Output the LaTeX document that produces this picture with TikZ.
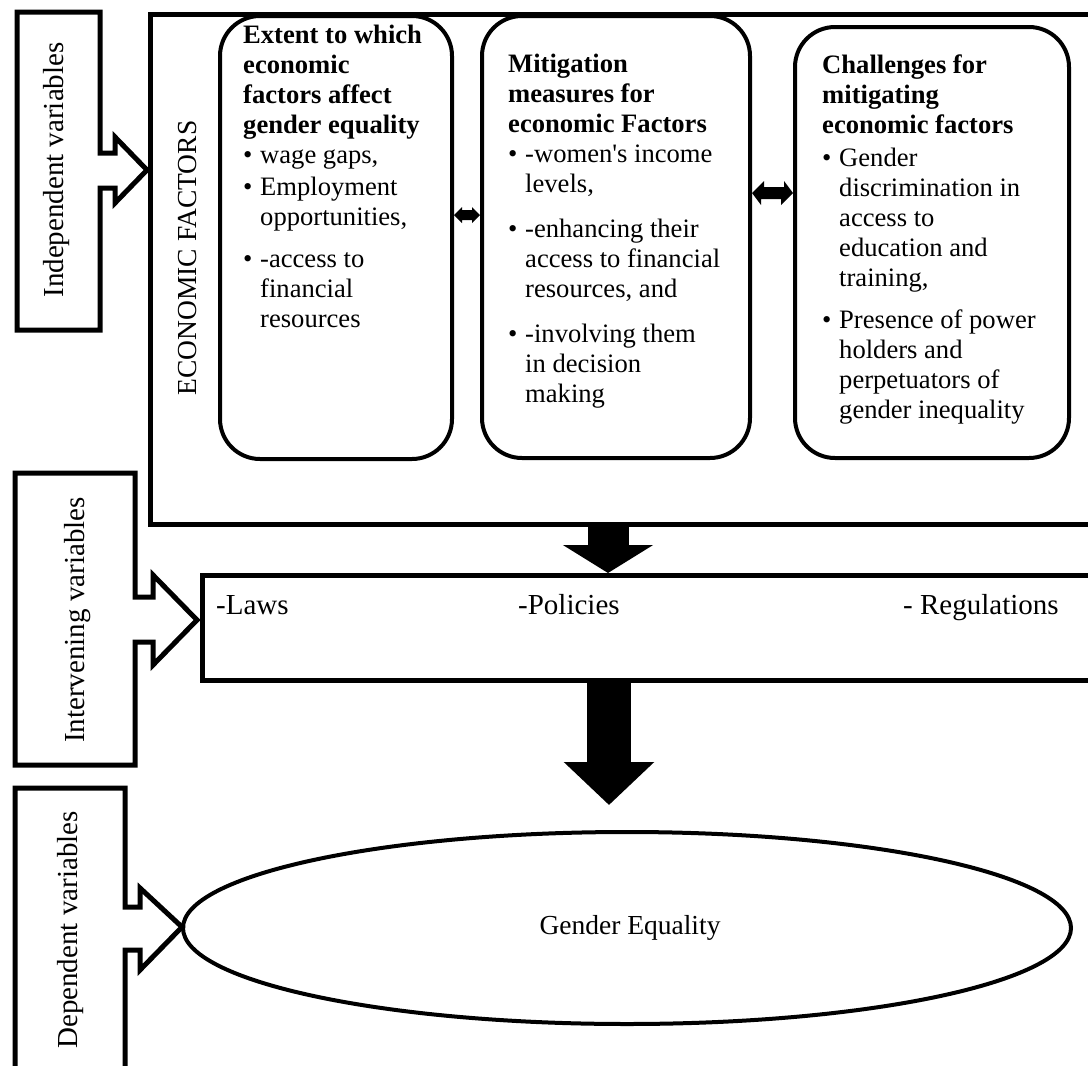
\documentclass[tikz,border=0pt]{standalone}
\usepackage{fontspec}
\setmainfont{Liberation Serif}
\usetikzlibrary{shapes.geometric,arrows.meta}
\newcommand{\fsz}{\fontsize{26.6}{30}\selectfont}
\newcommand{\fbig}{\fontsize{29}{32}\selectfont}
\newcommand{\bl}[1]{\makebox[17pt][l]{\textbullet}#1}
\newcommand{\ct}[1]{\hspace*{17pt}#1}
\begin{document}
\begin{tikzpicture}[x=1pt,y=-1pt,
  every node/.style={font=\fsz, inner sep=0pt},
  callout/.style={draw, line width=5pt, fill=white},
  frame/.style={draw, line width=5pt},
  rbox/.style={draw, line width=4pt, rounded corners=40pt, rectangle, anchor=north west},
  boxtext/.style={anchor=north west, align=left},
  sidelbl/.style={rotate=90, font=\fbig},
  inlbl/.style={anchor=base west, font=\fbig}
]
\clip (0,0) rectangle (1088,1066);
\fill[white] (0,0) rectangle (1088,1066);

% big frame
\node[frame, rectangle, anchor=north west, minimum width=1000pt, minimum height=510pt] (econ) at (148,12) {};
\node[rotate=90, font=\fontsize{27.5}{30}\selectfont] (econlbl) at (188,258) {ECONOMIC FACTORS};

% rounded boxes
\node[rbox, minimum width=232pt, minimum height=443pt] (b1) at (218,14) {};
\node[rbox, minimum width=268pt, minimum height=442pt] (b2) at (480,14) {};
\node[rbox, minimum width=274pt, minimum height=431pt] (b3) at (793,25) {};

\node[boxtext] (t1) at (243,25) {\textbf{Extent to which}\\\textbf{economic}\\\textbf{factors affect}\\\textbf{gender equality}\\
\bl{wage gaps,}\\[2pt]\bl{Employment}\\\ct{opportunities,}\\[12pt]\bl{-access to}\\\ct{financial}\\\ct{resources}};

\node[boxtext] (t2) at (508,54) {\textbf{Mitigation}\\\textbf{measures for}\\\textbf{economic Factors}\\
\bl{-women\textquotesingle s income}\\\ct{levels,}\\[15pt]\bl{-enhancing their}\\\ct{access to financial}\\\ct{resources, and}\\[15pt]\bl{-involving them}\\\ct{in decision}\\\ct{making}};

\node[boxtext] (t3) at (822,55) {\textbf{Challenges for}\\\textbf{mitigating}\\\textbf{economic factors}\\[3pt]
\bl{Gender}\\\ct{discrimination in}\\\ct{access to}\\\ct{education and}\\\ct{training,}\\[12pt]\bl{Presence of power}\\\ct{holders and}\\\ct{perpetuators of}\\\ct{gender inequality}};

% double arrows
\fill (b1.east |- 0,215) -- ++(8,-8) -- ++(0,3) -- ++(10,0) -- ++(0,-3) -- (b2.west |- 0,215) -- ++(-8,8) -- ++(0,-3) -- ++(-10,0) -- ++(0,3) -- cycle;
\fill (b2.east |- 0,193) -- ++(12,-12) -- ++(0,6) -- ++(20,0) -- ++(0,-6) -- (b3.west |- 0,193) -- ++(-12,12) -- ++(0,-6) -- ++(-20,0) -- ++(0,6) -- cycle;

% intervening box
\node[frame, rectangle, anchor=north west, minimum width=950pt, minimum height=105pt] (ib) at (200,573) {};
\node[inlbl] (laws) at (216,614) {-Laws};
\node[inlbl] (pol) at (518,614) {-Policies};
\node[inlbl] (reg) at (903,614) {- Regulations};

% down arrows
\draw[line width=41pt, -{Triangle[length=28pt,width=89pt]}] (econ.south -| 608,0) -- (ib.north -| 608,0);
\coordinate (a2end) at (609,805);
\draw[line width=44pt, -{Triangle[length=43pt,width=88pt]}] (ib.south -| 609,0) -- (a2end);

% ellipse
\node[ellipse, draw, line width=4pt, minimum width=888pt, minimum height=192pt] (ge) at (627,928) {};
\node[font=\fontsize{27.5}{30}\selectfont] (gelbl) at (630,928) {Gender Equality};

% callouts
\draw[callout] (17,12) -- (100,12) -- (100,153) -- (115,153) -- (115,137) -- (147,170) -- (115,203) -- (115,188) -- (100,188) -- (100,330) -- (17,330) -- cycle;
\node[sidelbl] (iv) at (57,170) {Independent variables};

\draw[callout] (15,473) -- (135,473) -- (135,597) -- (153,597) -- (153,575) -- (197,620) -- (153,665) -- (153,642) -- (135,642) -- (135,765) -- (15,765) -- cycle;
\node[sidelbl] (inv) at (78,620) {Intervening variables};

\draw[callout] (15,1100) -- (15,788) -- (125,788) -- (125,907) -- (140,907) -- (140,888) -- (182,927) -- (140,970) -- (140,950) -- (125,950) -- (125,1100);
\node[sidelbl] (dv) at (71,930) {Dependent variables};
\end{tikzpicture}
\end{document}
